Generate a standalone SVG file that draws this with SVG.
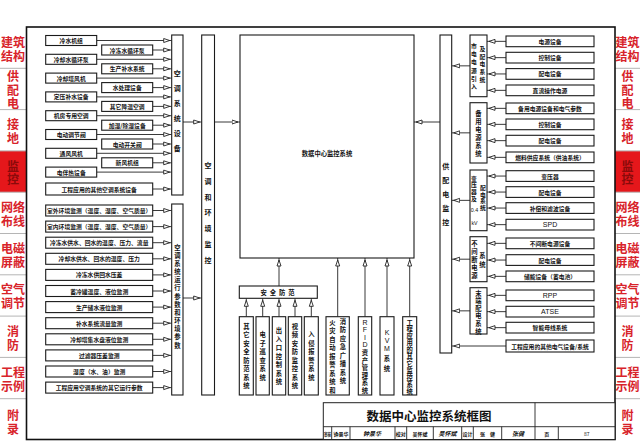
<svg xmlns="http://www.w3.org/2000/svg" width="640" height="443" viewBox="0 0 640 443">
<defs>
<style>
.bx{fill:#fff;stroke:#1a1a1a;stroke-width:1.1}
.t{font-family:'Noto Sans CJK SC','Noto Sans',sans-serif;font-size:5.8px;font-weight:700;fill:#111;text-anchor:middle;dominant-baseline:central}
.v{font-size:7px}
.s{font-size:6.3px}
.l{font-family:'Liberation Sans',sans-serif;font-weight:400;font-size:7px}
.tab{font-family:'Noto Sans CJK SC',sans-serif;font-size:12px;font-weight:700;fill:#d8232a;text-anchor:middle;dominant-baseline:central}
.tabon{fill:#8a0a0a}
.cn{stroke:#222;stroke-width:0.9;fill:none;marker-end:url(#a)}
.ln{stroke:#222;stroke-width:0.9;fill:none}
.sep{stroke:#b5b5b5;stroke-width:1}
.tb{font-family:'Noto Sans CJK SC',sans-serif;font-size:5px;font-weight:700;fill:#111;text-anchor:middle;dominant-baseline:central}
.sig{font-family:'Noto Sans CJK SC',sans-serif;font-size:6px;font-style:italic;font-weight:700;fill:#111;text-anchor:middle;dominant-baseline:central}
</style>
<marker id="a" viewBox="0 0 10 6" refX="8.5" refY="3" markerWidth="10" markerHeight="6" markerUnits="userSpaceOnUse" orient="auto">
<path d="M0.5,1 L6.5,3 L0.5,5 Z" fill="#fff" stroke="#222" stroke-width="0.9"/>
</marker>
</defs>
<rect width="640" height="443" fill="#fff"/>

<g id="tabs-left">
<rect x="0" y="150.9" width="26.5" height="41.3" fill="#e5171b"/>
<path class="sep" d="M0 68.3H26.5M0 109.6H26.5M0 150.9H26.5M0 192.2H26.5M0 233.5H26.5M0 274.8H26.5M0 316.1H26.5M0 357.4H26.5M0 398.7H26.5"/>
<text class="tab" x="7 19 7 19" y="41.5 41.5 55.5 55.5">建筑结构</text>
<text class="tab" x="13 13 13" y="75.5 89 102.5">供配电</text>
<text class="tab" x="13 13" y="123.5 137.5">接地</text>
<text class="tab tabon" x="13 13" y="165 178.5">监控</text>
<text class="tab" x="7 19 7 19" y="206.5 206.5 220 220">网络布线</text>
<text class="tab" x="7 19 7 19" y="247.5 247.5 261.5 261.5">电磁屏蔽</text>
<text class="tab" x="7 19 7 19" y="288.5 288.5 302.5 302.5">空气调节</text>
<text class="tab" x="13 13" y="330 344">消防</text>
<text class="tab" x="7 19 7 19" y="371.5 371.5 385 385">工程示例</text>
<text class="tab" x="13 13" y="414 428">附录</text>
</g>
<g id="tabs-right">
<rect x="615" y="150.9" width="25" height="41.3" fill="#e5171b"/>
<path class="sep" d="M615 68.3H640M615 109.6H640M615 150.9H640M615 192.2H640M615 233.5H640M615 274.8H640M615 316.1H640M615 357.4H640M615 398.7H640"/>
<text class="tab" x="621.5 633.5 621.5 633.5" y="41.5 41.5 55.5 55.5">建筑结构</text>
<text class="tab" x="627.5 627.5 627.5" y="75.5 89 102.5">供配电</text>
<text class="tab" x="627.5 627.5" y="123.5 137.5">接地</text>
<text class="tab tabon" x="627.5 627.5" y="165 178.5">监控</text>
<text class="tab" x="621.5 633.5 621.5 633.5" y="206.5 206.5 220 220">网络布线</text>
<text class="tab" x="621.5 633.5 621.5 633.5" y="247.5 247.5 261.5 261.5">电磁屏蔽</text>
<text class="tab" x="621.5 633.5 621.5 633.5" y="288.5 288.5 302.5 302.5">空气调节</text>
<text class="tab" x="627.5 627.5" y="330 344">消防</text>
<text class="tab" x="621.5 633.5 621.5 633.5" y="371.5 371.5 385 385">工程示例</text>
<text class="tab" x="627.5 627.5" y="414 428">附录</text>
</g>

<rect x="26.5" y="27" width="588.5" height="412.5" fill="none" stroke="#111" stroke-width="1.6"/>

<g id="connectors">
<path class="cn" d="M96.7 40.5H171.7"/><path class="cn" d="M152.7 50H171.7"/>
<path class="cn" d="M96.7 59.3H171.7"/><path class="cn" d="M152.7 68.8H171.7"/>
<path class="cn" d="M96.7 78.1H171.7"/><path class="cn" d="M152.7 87.6H171.7"/>
<path class="cn" d="M96.7 96.9H171.7"/><path class="cn" d="M152.7 106.4H171.7"/>
<path class="cn" d="M96.7 115.7H171.7"/><path class="cn" d="M152.7 125.2H171.7"/>
<path class="cn" d="M96.7 134.5H171.7"/><path class="cn" d="M152.7 144H171.7"/>
<path class="cn" d="M96.7 153.3H171.7"/><path class="cn" d="M152.7 162.8H171.7"/>
<path class="cn" d="M96.7 172.1H171.7"/><path class="cn" d="M152.7 189H171.7"/>
<path class="cn" d="M152.7 210.5H171.7"/><path class="cn" d="M152.7 226.6H171.7"/>
<path class="cn" d="M152.7 242.7H171.7"/><path class="cn" d="M152.7 258.8H171.7"/>
<path class="cn" d="M152.7 274.9H171.7"/><path class="cn" d="M152.7 291H171.7"/>
<path class="cn" d="M152.7 307.1H171.7"/><path class="cn" d="M152.7 323.2H171.7"/>
<path class="cn" d="M152.7 339.3H171.7"/><path class="cn" d="M152.7 355.4H171.7"/>
<path class="cn" d="M152.7 371.5H171.7"/><path class="cn" d="M152.7 387.6H171.7"/>
<path class="cn" d="M183 122H201.7"/><path class="cn" d="M183 298H201.7"/>
<path class="cn" d="M214.5 122H240"/>
<path class="cn" d="M440 122H414"/>
<path class="cn" d="M506 41.35H487"/><path class="cn" d="M506 57.65H487"/>
<path class="cn" d="M506 73.95H487"/><path class="cn" d="M506 90.35H487"/>
<path class="cn" d="M506 108.35H487"/><path class="cn" d="M506 124.35H487"/>
<path class="cn" d="M506 140.65H487"/><path class="cn" d="M506 157.35H487"/>
<path class="cn" d="M506 176.05H487"/><path class="cn" d="M506 192.05H487"/>
<path class="cn" d="M506 208.05H487"/><path class="cn" d="M506 224.65H487"/>
<path class="cn" d="M506 243.35H487"/><path class="cn" d="M506 260.05H487"/>
<path class="cn" d="M506 276.35H487"/>
<path class="cn" d="M506 295.35H487"/><path class="cn" d="M506 311.65H487"/>
<path class="cn" d="M506 327.65H487"/>
<path class="cn" d="M470 65.85H451.7"/><path class="cn" d="M470 132.85H451.7"/>
<path class="cn" d="M470 200.35H451.7"/><path class="cn" d="M470 259.2H451.7"/>
<path class="cn" d="M470 310.85H451.7"/><path class="cn" d="M506 346H451.7"/>
<path class="cn" d="M246.3 316.7V298.3"/><path class="cn" d="M262.7 316.7V298.3"/>
<path class="cn" d="M279 316.7V298.3"/><path class="cn" d="M295 316.7V298.3"/>
<path class="cn" d="M311.3 316.7V298.3"/>
<path class="cn" d="M279 286V258"/>
<path class="cn" d="M337.7 316.7V258"/><path class="cn" d="M365 316.7V258"/>
<path class="cn" d="M387 316.7V258"/><path class="cn" d="M409.7 316.7V258"/>
</g>

<g id="hvac-equip-left">
<g id="n-lsjz"><rect class="bx" x="45.7" y="35.5" width="51" height="10"/><text class="t" x="71.2" y="40.5">冷水机组</text></g>
<g id="n-lqsxhb"><rect class="bx" x="45.7" y="54.3" width="51" height="10"/><text class="t" x="71.2" y="59.3">冷却水循环泵</text></g>
<g id="n-lqtfj"><rect class="bx" x="45.7" y="73.1" width="51" height="10"/><text class="t" x="71.2" y="78.1">冷却塔风机</text></g>
<g id="n-dybs"><rect class="bx" x="45.7" y="91.9" width="51" height="10"/><text class="t" x="71.2" y="96.9">定压补水设备</text></g>
<g id="n-jfkt"><rect class="bx" x="45.7" y="110.7" width="51" height="10"/><text class="t" x="71.2" y="115.7">机房专用空调</text></g>
<g id="n-ddtjf"><rect class="bx" x="45.7" y="129.5" width="51" height="10"/><text class="t" x="71.2" y="134.5">电动调节阀</text></g>
<g id="n-tffj"><rect class="bx" x="45.7" y="148.3" width="51" height="10"/><text class="t" x="71.2" y="153.3">通风风机</text></g>
<g id="n-dbr"><rect class="bx" x="45.7" y="167.1" width="51" height="10"/><text class="t" x="71.2" y="172.1">电伴热设备</text></g>
<g id="n-ldsxhb"><rect class="bx" x="101.7" y="45" width="51" height="10"/><text class="t" x="127.2" y="50">冷冻水循环泵</text></g>
<g id="n-scbs"><rect class="bx" x="101.7" y="63.8" width="51" height="10"/><text class="t" x="127.2" y="68.8">生产补水系统</text></g>
<g id="n-scl"><rect class="bx" x="101.7" y="82.6" width="51" height="10"/><text class="t" x="127.2" y="87.6">水处理设备</text></g>
<g id="n-qtjw"><rect class="bx" x="101.7" y="101.4" width="51" height="10"/><text class="t" x="127.2" y="106.4">其它降温空调</text></g>
<g id="n-jscs"><rect class="bx" x="101.7" y="120.2" width="51" height="10"/><text class="t" x="127.2" y="125.2">加湿/除湿设备</text></g>
<g id="n-ddkg"><rect class="bx" x="101.7" y="139" width="51" height="10"/><text class="t" x="127.2" y="144">电动开关阀</text></g>
<g id="n-xfjz"><rect class="bx" x="101.7" y="157.8" width="51" height="10"/><text class="t" x="127.2" y="162.8">新风机组</text></g>
<g id="n-qtktsb"><rect class="bx" x="45.7" y="183" width="107" height="12"/><text class="t" x="99.2" y="189">工程应用的其他空调系统设备</text></g>
</g>

<g id="hvac-params-left">
<g id="n-swhj"><rect class="bx" x="45.7" y="205" width="107" height="11"/><text class="t" x="99.2" y="210.5">室外环境监测（温度、湿度、空气质量）</text></g>
<g id="n-snhj"><rect class="bx" x="45.7" y="221.1" width="107" height="11"/><text class="t" x="99.2" y="226.6">室内环境监测（温度、湿度、空气质量）</text></g>
<g id="n-ldgs"><rect class="bx" x="45.7" y="237.2" width="107" height="11"/><text class="t" x="99.2" y="242.7">冷冻水供水、回水的温度、压力、流量</text></g>
<g id="n-lqgs"><rect class="bx" x="45.7" y="253.3" width="107" height="11"/><text class="t" x="99.2" y="258.8">冷却水供水、回水的温度、压力</text></g>
<g id="n-ldyc"><rect class="bx" x="45.7" y="269.4" width="107" height="11"/><text class="t" x="99.2" y="274.9">冷冻水供回水压差</text></g>
<g id="n-xlg"><rect class="bx" x="45.7" y="285.5" width="107" height="11"/><text class="t" x="99.2" y="291">蓄冷罐温度、液位监测</text></g>
<g id="n-sccs"><rect class="bx" x="45.7" y="301.6" width="107" height="11"/><text class="t" x="99.2" y="307.1">生产储水液位监测</text></g>
<g id="n-bsll"><rect class="bx" x="45.7" y="317.7" width="107" height="11"/><text class="t" x="99.2" y="323.2">补水系统流量监测</text></g>
<g id="n-lqtyw"><rect class="bx" x="45.7" y="333.8" width="107" height="11"/><text class="t" x="99.2" y="339.3">冷却塔集水盘液位监测</text></g>
<g id="n-glq"><rect class="bx" x="45.7" y="349.9" width="107" height="11"/><text class="t" x="99.2" y="355.4">过滤器压差监测</text></g>
<g id="n-sd"><rect class="bx" x="45.7" y="366" width="107" height="11"/><text class="t" x="99.2" y="371.5">湿度（水、油）监测</text></g>
<g id="n-qtyx"><rect class="bx" x="45.7" y="382.1" width="107" height="11"/><text class="t" x="99.2" y="387.6">工程应用空调系统的其它运行参数</text></g>
</g>

<g id="n-ktxtsb"><rect class="bx" x="171.7" y="35" width="11.3" height="160"/>
<text class="t v" x="177.3 177.3 177.3 177.3 177.3 177.3" y="73 88 103 118 133 148">空调系统设备</text></g>
<g id="n-ktyxcs"><rect class="bx" x="171.7" y="204" width="11.3" height="191"/>
<text class="t s" x="177.3 177.3 177.3 177.3 177.3 177.3 177.3 177.3 177.3 177.3 177.3 177.3 177.3" y="247 255.2 263.3 271.5 279.7 287.9 296 304.2 312.4 320.5 328.7 336.9 345">空调系统运行参数和环境参数</text></g>
<g id="n-kthjjk"><rect class="bx" x="201.7" y="35" width="12.8" height="360"/>
<text class="t v" x="208.1 208.1 208.1 208.1 208.1 208.1 208.1" y="165 180.8 196.6 212.4 228.2 244 259.8">空调和环境监控</text></g>

<g id="n-main"><rect class="bx" x="240" y="35" width="174" height="223"/>
<text class="t" x="327" y="153" style="font-size:6.3px">数据中心监控系统</text></g>

<g id="n-afj"><rect class="bx" x="239.3" y="286" width="78" height="12.3"/><text class="t" x="279" y="292.2" style="font-size:6.3px;letter-spacing:3px">安全防范</text></g>
<g id="n-qtaf"><rect class="bx" x="239.3" y="316.7" width="14" height="78.3"/>
<text class="t s" x="246.3 246.3 246.3 246.3 246.3 246.3 246.3 246.3" y="326.3 334.8 343.3 351.8 360.3 368.8 377.3 385.8">其它安全防范系统</text></g>
<g id="n-dzxc"><rect class="bx" x="256" y="316.7" width="13.3" height="78.3"/>
<text class="t s" x="262.7 262.7 262.7 262.7 262.7 262.7" y="334.8 343.3 351.8 360.3 368.8 377.3">电子巡查系统</text></g>
<g id="n-crk"><rect class="bx" x="272.3" y="316.7" width="13.4" height="78.3"/>
<text class="t s" x="279 279 279 279 279 279 279" y="330.5 339 347.5 356 364.5 373 381.5">出入口控制系统</text></g>
<g id="n-spaf"><rect class="bx" x="288.3" y="316.7" width="13.4" height="78.3"/>
<text class="t s" x="295 295 295 295 295 295 295 295" y="326.3 334.8 343.3 351.8 360.3 368.8 377.3 385.8">视频安防监控系统</text></g>
<g id="n-rqbj"><rect class="bx" x="304.3" y="316.7" width="14" height="78.3"/>
<text class="t s" x="311.3 311.3 311.3 311.3 311.3 311.3" y="334.8 343.3 351.8 360.3 368.8 377.3">入侵报警系统</text></g>
<g id="n-xf"><rect class="bx" x="326" y="316.7" width="23.3" height="78.3"/>
<text class="t s" x="332.3 332.3 332.3 332.3 332.3 332.3 332.3 332.3 332.3" y="322 330.5 339 347.5 356 364.5 373 381.5 390">火灾自动报警系统和</text>
<text class="t s" x="343 343 343 343 343 343 343 343" y="321 329.5 338 346.5 355 363.5 372 380.5">消防应急广播系统</text></g>
<g id="n-rfid"><rect class="bx" x="358.3" y="316.7" width="13.4" height="78.3"/>
<text class="t s" x="365 365 365 365 365 365 365 365 365 365" y="321.5 329 336.5 344 352 360 367.5 375 382.5 390"><tspan class="l">RFID</tspan>资产管理系统</text></g>
<g id="n-kvm"><rect class="bx" x="380" y="316.7" width="14" height="78.3"/>
<text class="t s" x="387 387 387 387 387" y="331.7 340 348.3 358.3 368.3"><tspan class="l">KVM</tspan>系统</text></g>
<g id="n-qtjk"><rect class="bx" x="402.7" y="316.7" width="14" height="78.3"/>
<text class="t s" x="409.7 409.7 409.7 409.7 409.7 409.7 409.7 409.7 409.7 409.7 409.7" y="322 328.9 335.8 342.7 349.6 356.5 363.4 370.3 377.2 384.1 391">工程应用的其它监控系统</text></g>

<g id="n-gpdjk"><rect class="bx" x="440" y="35" width="11.7" height="318"/>
<text class="t v" x="445.8 445.8 445.8 445.8 445.8" y="166 180 194 208 222">供配电监控</text></g>
<g id="n-sd1"><rect class="bx" x="470" y="35" width="17" height="61.7"/>
<text class="t" x="474 474 474 474 474 474" y="45 53.3 61.7 70 78.3 86.7">市电电源引入</text>
<text class="t" x="482.5 482.5 482.5 482.5 482.5" y="48.3 56 63.7 71.4 79">及配电系统</text></g>
<g id="n-by"><rect class="bx" x="470" y="102.7" width="17" height="60.3"/>
<text class="t s" x="478.5 478.5 478.5 478.5 478.5 478.5" y="113 121 129 137 145 153">备用电源系统</text></g>
<g id="n-byq"><rect class="bx" x="470" y="170" width="17" height="60.7"/>
<text class="t" x="474 474 474 474" y="178 184.7 191.4 198.1">变压器及</text>
<text class="t l" x="474.5" y="209.5" style="font-size:5.3px">0.4</text>
<text class="t l" x="474.5" y="222.5" style="font-size:5.3px">kV</text>
<text class="t" x="483 483 483 483" y="187.3 194 200.7 207.3">配电系统</text></g>
<g id="n-ups"><rect class="bx" x="470" y="236.7" width="17" height="45"/>
<text class="t s" x="474.5 474.5 474.5 474.5 474.5" y="243 251 259 267 275">不间断电源</text>
<text class="t s" x="482.5 482.5" y="255 264">系统</text></g>
<g id="n-md"><rect class="bx" x="470" y="287.7" width="17" height="46.3"/>
<text class="t s" x="478.5 478.5 478.5 478.5 478.5 478.5" y="293 300.6 308.2 315.8 323.4 331">末端配电系统</text></g>

<g id="power-items">
<g id="p1"><rect class="bx" x="506" y="36" width="88" height="10.7"/><text class="t" x="550" y="41.35">电源设备</text></g>
<g id="p2"><rect class="bx" x="506" y="52.3" width="88" height="10.7"/><text class="t" x="550" y="57.65">控制设备</text></g>
<g id="p3"><rect class="bx" x="506" y="68.6" width="88" height="10.7"/><text class="t" x="550" y="73.95">配电设备</text></g>
<g id="p4"><rect class="bx" x="506" y="85" width="88" height="10.7"/><text class="t" x="550" y="90.35">直流操作电源</text></g>
<g id="p5"><rect class="bx" x="506" y="103" width="88" height="10.7"/><text class="t" x="550" y="108.35">备用电源设备和电气参数</text></g>
<g id="p6"><rect class="bx" x="506" y="119" width="88" height="10.7"/><text class="t" x="550" y="124.35">控制设备</text></g>
<g id="p7"><rect class="bx" x="506" y="135.3" width="88" height="10.7"/><text class="t" x="550" y="140.65">配电设备</text></g>
<g id="p8"><rect class="bx" x="506" y="152" width="88" height="10.7"/><text class="t" x="550" y="157.35">燃料供应系统（供油系统）</text></g>
<g id="p9"><rect class="bx" x="506" y="170.7" width="88" height="10.7"/><text class="t" x="550" y="176.05">变压器</text></g>
<g id="p10"><rect class="bx" x="506" y="186.7" width="88" height="10.7"/><text class="t" x="550" y="192.05">配电设备</text></g>
<g id="p11"><rect class="bx" x="506" y="202.7" width="88" height="10.7"/><text class="t" x="550" y="208.05">补偿和滤波设备</text></g>
<g id="p12"><rect class="bx" x="506" y="219.3" width="88" height="10.7"/><text class="t l" x="550" y="224.65">SPD</text></g>
<g id="p13"><rect class="bx" x="506" y="238" width="88" height="10.7"/><text class="t" x="550" y="243.35">不间断电源设备</text></g>
<g id="p14"><rect class="bx" x="506" y="254.7" width="88" height="10.7"/><text class="t" x="550" y="260.05">配电设备</text></g>
<g id="p15"><rect class="bx" x="506" y="271" width="88" height="10.7"/><text class="t" x="550" y="276.35">储能设备（蓄电池）</text></g>
<g id="p16"><rect class="bx" x="506" y="290" width="88" height="10.7"/><text class="t l" x="550" y="295.35">RPP</text></g>
<g id="p17"><rect class="bx" x="506" y="306.3" width="88" height="10.7"/><text class="t l" x="550" y="311.65">ATSE</text></g>
<g id="p18"><rect class="bx" x="506" y="322.3" width="88" height="10.7"/><text class="t" x="550" y="327.65">智能母线系统</text></g>
<g id="p19"><rect class="bx" x="506" y="340" width="88" height="12"/><text class="t" x="550" y="346">工程应用的其他电气设备/系统</text></g>
</g>

<g id="title-block">
<rect x="323.3" y="402.7" width="291.7" height="36.8" fill="#fff" stroke="#222" stroke-width="1"/>
<path class="ln" d="M323.3 426.7H615M535 402.7V439.5M331.7 426.7V439.5M350 426.7V439.5M395 426.7V439.5M406.7 426.7V439.5M433.3 426.7V439.5M461.7 426.7V439.5M473.3 426.7V439.5M501.7 426.7V439.5M558.3 426.7V439.5"/>
<text x="429" y="415.5" style="font-family:'Noto Sans CJK SC',sans-serif;font-size:12.5px;font-weight:700;fill:#111;text-anchor:middle;dominant-baseline:central">数据中心监控系统框图</text>
<text class="tb" x="327.5" y="433.1" textLength="7" lengthAdjust="spacingAndGlyphs">审核</text>
<text class="tb" x="341" y="433.1">钟景华</text>
<text class="sig" x="372" y="433.1">钟景华</text>
<text class="tb" x="400.8" y="433.1">校对</text>
<text class="tb" x="420" y="433.1">吴怀斌</text>
<text class="sig" x="447.5" y="433.1">吴怀斌</text>
<text class="tb" x="467.5" y="433.1">设计</text>
<text class="tb" x="487.5" y="433.1">张　健</text>
<text class="sig" x="518" y="433.1">张健</text>
<text class="tb" x="546.7" y="433.1">页</text>
<text class="tb" x="586.7" y="433.1" style="font-weight:400">87</text>
</g>
</svg>
